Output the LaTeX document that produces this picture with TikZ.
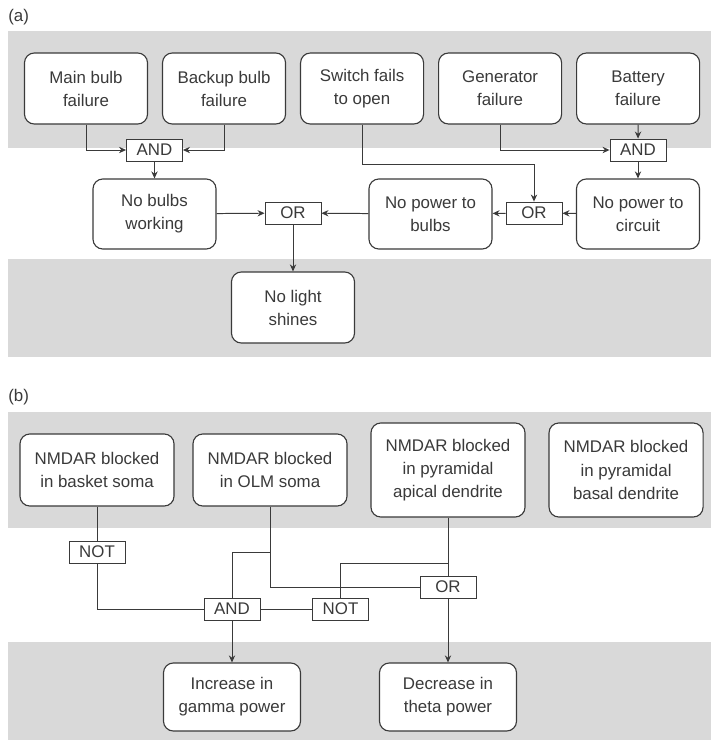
\documentclass[tikz,border=0pt]{standalone}
\usepackage{fontspec}
\setmainfont{Liberation Sans}
\usetikzlibrary{positioning, arrows.meta, calc}

\definecolor{bandgray}{HTML}{D9D9D9}
\definecolor{inkgray}{HTML}{3A3A3A}

\tikzset{
  event/.style={draw=inkgray, fill=white, text=inkgray, rounded corners=7pt,
    line width=0.8pt, align=center, inner sep=2pt,
    font=\fontsize{12}{16.4}\selectfont},
  gate/.style={draw=inkgray, fill=white, text=inkgray, line width=0.6pt,
    minimum width=1.4cm, minimum height=0.55cm, inner sep=0pt,
    font=\fontsize{12}{14}\selectfont},
  wire/.style={draw=inkgray, line width=0.7pt},
  flow/.style={wire, -{Stealth[length=5pt, width=4.5pt]}},
  band/.style={fill=bandgray, draw=none},
  tag/.style={anchor=west, text=inkgray, inner sep=0pt, font=\fontsize{12}{14}\selectfont}
}

\begin{document}
\begin{tikzpicture}[x=0.025cm, y=-0.025cm, node distance=3.45cm, on grid]
    \useasboundingbox (0,0) rectangle (711,750);

    % grey bands
    \path[band] (8,31) rectangle (711,148);
    \path[band] (8,259) rectangle (711,357);
    \path[band] (8,412) rectangle (711,528);
    \path[band] (8,642) rectangle (711,740);

    \node[tag] (taga) at (8,17) {(a)};
    \node[tag] (tagb) at (8,397) {(b)};

    % (a) light bulb tree
    \node[event, minimum width=3.075cm, minimum height=1.775cm] (mainbulb) at (86,88.5) {Main bulb\\failure};
    \node[event, minimum width=3.075cm, minimum height=1.775cm] (backupbulb) [right=of mainbulb] {Backup bulb\\failure};
    \node[event, minimum width=3.075cm, minimum height=1.775cm] (switch) [right=of backupbulb] {Switch fails\\to open};
    \node[event, minimum width=3.075cm, minimum height=1.775cm] (generator) [right=of switch] {Generator\\failure};
    \node[event, minimum width=3.075cm, minimum height=1.775cm] (battery) [right=of generator] {Battery\\failure};

    \node[gate] (andbulbs) at (154.5,150) {AND};
    \node[gate] (andpower) at (638,150) {AND};

    \node[event, minimum width=3.075cm, minimum height=1.75cm] (nobulbs) at (154.5,214) {No bulbs\\working};
    \node[event, minimum width=3.075cm, minimum height=1.75cm] (nopowerbulbs) at (430.5,214) {No power to\\bulbs};
    \node[event, minimum width=3.075cm, minimum height=1.75cm] (nopowercircuit) at (638,214) {No power to\\circuit};

    \node[gate] (orlight) at (293,213) {OR};
    \node[gate] (orbulbs) at (534,213) {OR};

    \node[event, minimum width=3.075cm, minimum height=1.775cm] (nolight) at (293,307.5) {No light\\shines};

    \coordinate (switchbend) at (orbulbs.north |- 0,164);

    \path[flow]
    (mainbulb.south) |- (andbulbs.west);
    \path[flow] (backupbulb.south) |- (andbulbs.east);
    \path[flow] (andbulbs) -- (nobulbs);
    \path[flow] (nobulbs) -- (orlight);
    \path[flow] (nopowerbulbs) -- (orlight);
    \path[flow] (orlight) -- (nolight);
    \path[flow] (battery) -- (andpower);
    \path[flow] (generator.south) |- (andpower.west);
    \path[flow] (andpower) -- (nopowercircuit);
    \path[flow] (switch.south) |- (switchbend) -- (orbulbs.north);
    \path[flow] (nopowercircuit) -- (orbulbs);
    \path[flow] (orbulbs) -- (nopowerbulbs);

    % (b) NMDAR tree
    \node[event, minimum width=3.85cm, minimum height=1.8cm] (basket) at (97,470) {NMDAR blocked\\in basket soma};
    \node[event, minimum width=3.85cm, minimum height=1.8cm] (olm) at (270,470) {NMDAR blocked\\in OLM soma};
    \node[event, minimum width=3.85cm, minimum height=2.35cm] (apical) at (448,470) {NMDAR blocked\\in pyramidal\\apical dendrite};
    \node[event, minimum width=3.85cm, minimum height=2.35cm] (basal) [right=4.45cm of apical] {NMDAR blocked\\in pyramidal\\basal dendrite};

    \node[gate] (notbasket) at (97,552) {NOT};
    \node[gate] (andgamma) at (232,609) {AND};
    \node[gate] (notapical) at (340.5,609) {NOT};
    \node[gate] (ortheta) at (448,587) {OR};

    \node[event, minimum width=3.425cm, minimum height=1.7cm] (increase) at (232,697) {Increase in\\gamma power};
    \node[event, minimum width=3.425cm, minimum height=1.7cm] (decrease) at (448,697) {Decrease in\\theta power};

    \coordinate (olmsplit) at (olm.south |- 0,552);
    \coordinate (apicalsplit) at (apical.south |- 0,563);

    \path[wire] (basket) -- (notbasket);
    \path[wire] (notbasket.south) |- (andgamma.west);
    \path[wire] (olm.south) |- (ortheta.west);
    \path[wire] (olmsplit) -| (andgamma.north);
    \path[wire] (apical) -- (ortheta);
    \path[wire] (apicalsplit) -| (notapical.north);
    \path[wire] (notapical) -- (andgamma);
    \path[flow] (andgamma) -- (increase);
    \path[flow] (ortheta) -- (decrease);
\end{tikzpicture}
\end{document}
